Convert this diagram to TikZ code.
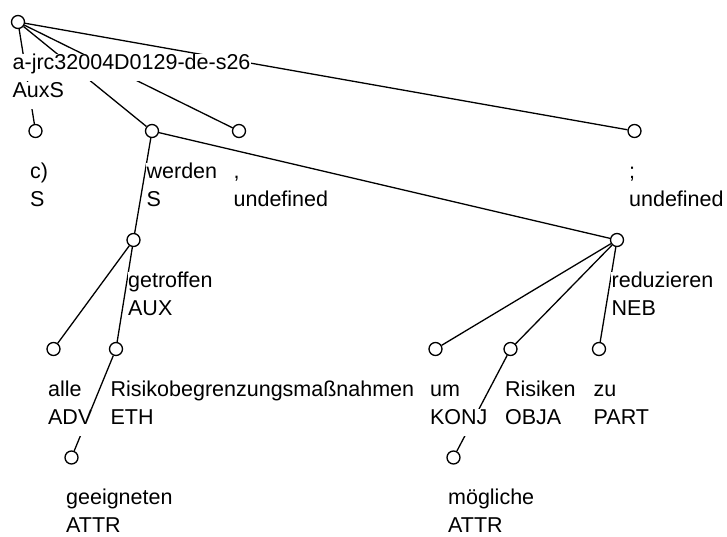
\documentclass[tikz,border=0pt]{standalone}
\usepackage{fontspec}
\setmainfont{Liberation Sans}
\usetikzlibrary{positioning}

\tikzset{
  tok/.style={circle, draw, fill=white, minimum size=13pt, inner sep=0pt},
  wrd/.style={fill=white, inner xsep=0.5pt, inner ysep=0pt,
    text height=15.5pt, text depth=11.5pt, font=\fontsize{21.5}{25}\selectfont}
}

\begin{document}
\begin{tikzpicture}[x=1pt, y=-1pt, line width=1.3pt]
  \useasboundingbox (0,0) rectangle (727,537);

  % tokens, one row per level of the tree
  \node[tok] (root) at (18,22) {};

  \node[tok] (c) at (35.5,131) {};
  \node[tok] (werden) at (152,131) {};
  \node[tok] (komma) at (239,131) {};
  \node[tok] (semi) at (634.5,131) {};

  \node[tok] (getroffen) at (133.5,240) {};
  \node[tok] (reduzieren) at (617,240) {};

  \node[tok] (alle) at (53.5,349) {};
  \node[tok] (risiko) at (116,349) {};
  \node[tok] (um) at (435.5,349) {};
  \node[tok] (risiken) at (510.5,349) {};
  \node[tok] (zu) at (599,349) {};

  \node[tok] (geeigneten) at (71.5,457.5) {};
  \node[tok] (moegliche) at (453.5,457.5) {};

  % dependencies
  \draw (root) -- (c);
  \draw (root) -- (werden);
  \draw (root) -- (komma);
  \draw (root) -- (semi);
  \draw (werden) -- (getroffen);
  \draw (werden) -- (reduzieren);
  \draw (getroffen) -- (alle);
  \draw (getroffen) -- (risiko);
  \draw (risiko) -- (geeigneten);
  \draw (reduzieren) -- (um);
  \draw (reduzieren) -- (risiken);
  \draw (reduzieren) -- (zu);
  \draw (risiken) -- (moegliche);

  % word and tag under each token
  \node[wrd, below right=31pt and -6.5pt of root.center] (root-w) {a-jrc32004D0129-de-s26};
  \node[wrd, below right=0pt of root-w.south west] (root-t) {AuxS};

  \node[wrd, below right=31pt and -6.5pt of c.center] (c-w) {c)};
  \node[wrd, below right=0pt of c-w.south west] (c-t) {S};
  \node[wrd, below right=31pt and -6.5pt of werden.center] (werden-w) {werden};
  \node[wrd, below right=0pt of werden-w.south west] (werden-t) {S};
  \node[wrd, below right=31pt and -6.5pt of komma.center] (komma-w) {,};
  \node[wrd, below right=0pt of komma-w.south west] (komma-t) {undefined};
  \node[wrd, below right=31pt and -6.5pt of semi.center] (semi-w) {;};
  \node[wrd, below right=0pt of semi-w.south west] (semi-t) {undefined};

  \node[wrd, below right=31pt and -6.5pt of getroffen.center] (getroffen-w) {getroffen};
  \node[wrd, below right=0pt of getroffen-w.south west] (getroffen-t) {AUX};
  \node[wrd, below right=31pt and -6.5pt of reduzieren.center] (reduzieren-w) {reduzieren};
  \node[wrd, below right=0pt of reduzieren-w.south west] (reduzieren-t) {NEB};

  \node[wrd, below right=31pt and -6.5pt of alle.center] (alle-w) {alle};
  \node[wrd, below right=0pt of alle-w.south west] (alle-t) {ADV};
  \node[wrd, below right=31pt and -6.5pt of risiko.center] (risiko-w) {Risikobegrenzungsmaßnahmen};
  \node[wrd, below right=0pt of risiko-w.south west] (risiko-t) {ETH};
  \node[wrd, below right=31pt and -6.5pt of um.center] (um-w) {um};
  \node[wrd, below right=0pt of um-w.south west] (um-t) {KONJ};
  \node[wrd, below right=31pt and -6.5pt of risiken.center] (risiken-w) {Risiken};
  \node[wrd, below right=0pt of risiken-w.south west] (risiken-t) {OBJA};
  \node[wrd, below right=31pt and -6.5pt of zu.center] (zu-w) {zu};
  \node[wrd, below right=0pt of zu-w.south west] (zu-t) {PART};

  \node[wrd, below right=31pt and -6.5pt of geeigneten.center] (geeigneten-w) {geeigneten};
  \node[wrd, below right=0pt of geeigneten-w.south west] (geeigneten-t) {ATTR};
  \node[wrd, below right=31pt and -6.5pt of moegliche.center] (moegliche-w) {mögliche};
  \node[wrd, below right=0pt of moegliche-w.south west] (moegliche-t) {ATTR};
\end{tikzpicture}
\end{document}
